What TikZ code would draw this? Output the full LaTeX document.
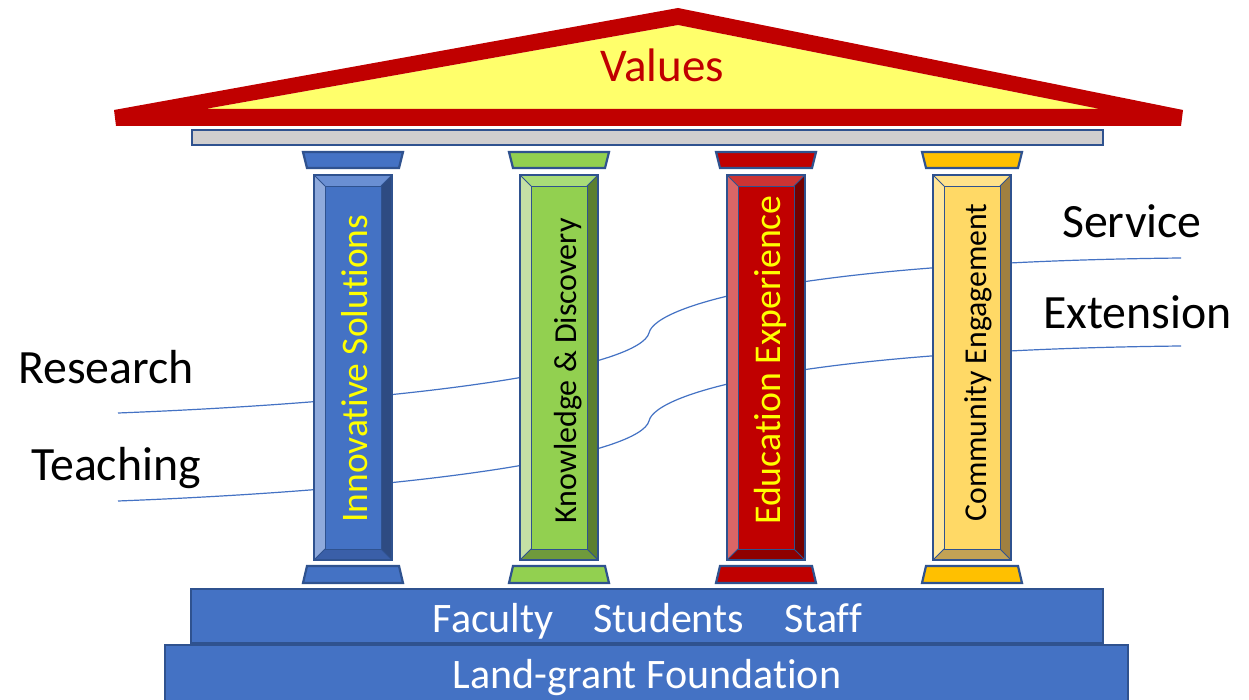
\documentclass[tikz,border=0pt]{standalone}
\usepackage{fontspec}
\setmainfont{Carlito}[Ligatures={NoCommon}]
\definecolor{edgeblue}{HTML}{2F528F}
\definecolor{bandblue}{HTML}{4472C4}
\definecolor{curveblue}{HTML}{4472C4}
\definecolor{roofred}{HTML}{C00000}
\definecolor{roofyellow}{HTML}{FFFF6B}
\definecolor{archgray}{HTML}{D0CECE}
\definecolor{txtyellow}{HTML}{FFFF00}
% pillar 1 (blue)
\definecolor{aface}{HTML}{4472C4}\definecolor{aleft}{HTML}{8FAADC}\definecolor{atop}{HTML}{6A8FD3}\definecolor{aright}{HTML}{2E4B82}\definecolor{abot}{HTML}{3A5FA8}\definecolor{acap}{HTML}{4472C4}
% pillar 2 (green)
\definecolor{bface}{HTML}{92D050}\definecolor{bleft}{HTML}{C5E0A5}\definecolor{btop}{HTML}{A9DC78}\definecolor{bright}{HTML}{5B7F30}\definecolor{bbot}{HTML}{6F9A3C}\definecolor{bcap}{HTML}{92D050}
% pillar 3 (red)
\definecolor{cface}{HTML}{C00000}\definecolor{cleft}{HTML}{DA6666}\definecolor{ctop}{HTML}{CD3333}\definecolor{cright}{HTML}{730000}\definecolor{cbot}{HTML}{8F0000}\definecolor{ccap}{HTML}{C00000}
% pillar 4 (gold)
\definecolor{dface}{HTML}{FFD966}\definecolor{dleft}{HTML}{FFE699}\definecolor{dtop}{HTML}{FFE28A}\definecolor{dright}{HTML}{A08040}\definecolor{dbot}{HTML}{C2A255}\definecolor{dcap}{HTML}{FFC000}

\tikzset{
  outline/.style={draw=edgeblue, line width=2.2pt, line join=miter},
  thinedge/.style={draw=edgeblue, line width=0.9pt},
  curveline/.style={draw=curveblue, line width=1.2pt},
  sidelabel/.style={inner sep=0pt, font=\fontsize{47.8}{52}\selectfont, text=black},
  bandlabel/.style={inner sep=0pt, font=\fontsize{42}{46}\selectfont, text=white},
  pillarlabel/.style={inner sep=0pt, rotate=90, anchor=base},
}

\newcommand{\colpillar}[7]{%
  % #1 centre x, #2 face, #3 left bevel, #4 top bevel, #5 right bevel, #6 bottom bevel, #7 capital
  \fill[#2] ({#1-28},186) rectangle ({#1+28},549);
  \fill[#4] ({#1-39},175) -- ({#1+39},175) -- ({#1+28},186) -- ({#1-28},186) -- cycle;
  \fill[#3] ({#1-39},175) -- ({#1-28},186) -- ({#1-28},549) -- ({#1-39},560) -- cycle;
  \fill[#5] ({#1+39},175) -- ({#1+39},560) -- ({#1+28},549) -- ({#1+28},186) -- cycle;
  \fill[#6] ({#1-39},560) -- ({#1+39},560) -- ({#1+28},549) -- ({#1-28},549) -- cycle;
  \draw[thinedge] ({#1-28},186) rectangle ({#1+28},549);
  \draw[thinedge] ({#1-39},175) -- ({#1-28},186) ({#1+39},175) -- ({#1+28},186)
                  ({#1-39},560) -- ({#1-28},549) ({#1+39},560) -- ({#1+28},549);
  \draw[outline] ({#1-39},175) rectangle ({#1+39},560);
  \filldraw[fill=#7, outline] ({#1-50},152) -- ({#1+50},152) -- ({#1+46},168) -- ({#1-46},168) -- cycle;
  \filldraw[fill=#7, outline] ({#1-46},566) -- ({#1+46},566) -- ({#1+50},583) -- ({#1-50},583) -- cycle;
}

\begin{document}
\begin{tikzpicture}[x=1pt,y=-1pt]
\useasboundingbox (0,0) rectangle (1249,700);
\fill[white] (0,0) rectangle (1249,700);

% connector curves (behind the pillars)
\coordinate (rs) at (118,413);
\coordinate (rm) at (649,333);
\coordinate (se) at (1181,258);
\coordinate (ts) at (118,501);
\coordinate (tm) at (649,421);
\coordinate (ee) at (1181,346);
\draw[curveline] (rs) .. controls (450,400) and (640,365) .. (rm)
                      .. controls (655,305) and (800,262) .. (se);
\draw[curveline] (ts) .. controls (450,488) and (640,453) .. (tm)
                      .. controls (655,393) and (800,350) .. (ee);

% roof
\fill[roofyellow] (205,109) -- (678,25) -- (1100,109) -- cycle;
\fill[roofred, even odd rule] (114,110) -- (678,8) -- (1183,110) -- (1181,126) -- (116,126) -- cycle
      (205,109) -- (678,25) -- (1100,109) -- cycle;
\node[inner sep=0pt, anchor=base, font=\fontsize{47}{50}\selectfont, text=roofred] (values) at (662,82) {Values};

% architrave
\filldraw[fill=archgray, outline] (192,130) rectangle (1103,145);

% pillars
\colpillar{353}{aface}{aleft}{atop}{aright}{abot}{acap}
\colpillar{559}{bface}{bleft}{btop}{bright}{bbot}{bcap}
\colpillar{766}{cface}{cleft}{ctop}{cright}{cbot}{ccap}
\colpillar{972}{dface}{dleft}{dtop}{dright}{dbot}{dcap}

\node[pillarlabel, text=txtyellow, font=\fontsize{37.5}{40}\selectfont] (innov) at (367,368.5) {Innovative Solutions};
\node[pillarlabel, text=black, font=\fontsize{32}{35}\selectfont] (know) at (576,371) {Knowledge \& Discovery};
\node[pillarlabel, text=txtyellow, font=\fontsize{37.8}{40}\selectfont] (edu) at (780,360) {Education Experience};
\node[pillarlabel, text=black, font=\fontsize{31.8}{35}\selectfont] (comm) at (986,362.5) {Community Engagement};

% steps
\filldraw[fill=bandblue, draw=edgeblue, line width=1.5pt] (191,589) rectangle (1103,643);
\filldraw[fill=bandblue, draw=edgeblue, line width=1.5pt] (165,645) rectangle (1128,703);
\node[bandlabel, anchor=base] (people) at (647.5,632) {Faculty\hspace{40pt}Students\hspace{40pt}Staff};
\node[bandlabel, anchor=base] (found) at (647,688) {Land-grant Foundation};

% side labels
\node[sidelabel, anchor=base west] (research) at (18,383) {Research};
\node[sidelabel, anchor=base west] (teaching) at (31,480) {Teaching};
\node[sidelabel, anchor=base west] (service) at (1062,238) {Service};
\node[sidelabel, anchor=base west] (extension) at (1043,328) {Extension};
\end{tikzpicture}
\end{document}
